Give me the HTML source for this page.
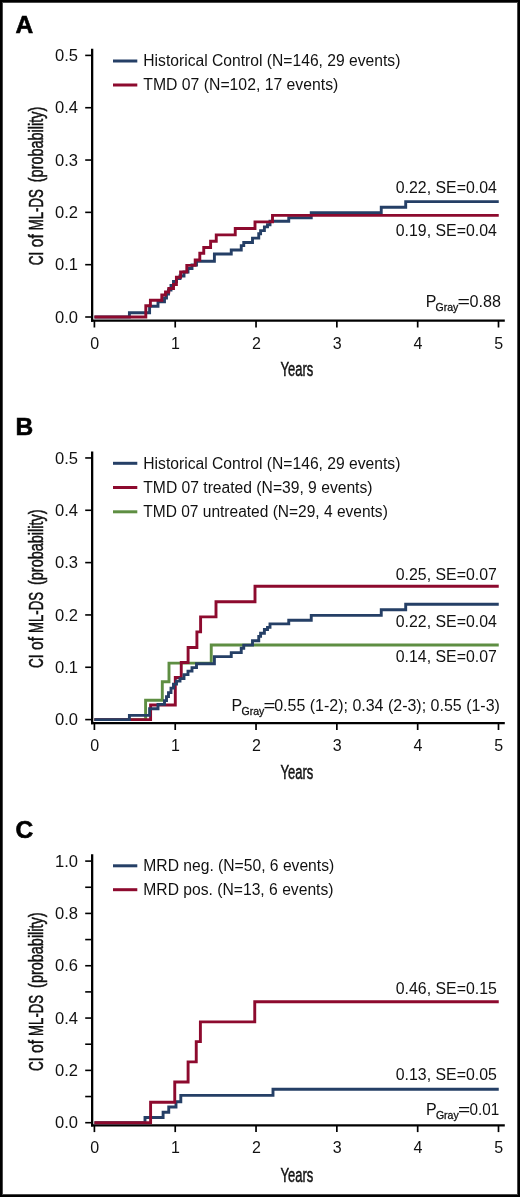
<!DOCTYPE html>
<html><head><meta charset="utf-8"><style>
html,body{margin:0;padding:0;background:#fff;}
body{width:520px;height:1197px;overflow:hidden;position:relative;}
.frame{position:absolute;left:0;top:0;width:516px;height:1193px;border:2px solid #000;}
.frame2{position:absolute;left:2px;top:2px;width:514px;height:1191px;border:1px solid #4a4a4a;}
svg{position:absolute;left:0;top:0;display:block;will-change:transform;}
</style></head><body>
<svg width="520" height="1197" viewBox="0 0 520 1197" font-family="Liberation Sans, sans-serif" fill="#111">
<rect x="0" y="0" width="520" height="1197" fill="#fff"/>
<text x="15.4" y="32.50" font-size="24.5" font-weight="bold" fill="#000" stroke="#000" stroke-width="0.6">A</text>
<line x1="92.15" y1="48.80" x2="92.15" y2="321.80" stroke="#000" stroke-width="2.3"/>
<line x1="91.0" y1="320.70" x2="504.8" y2="320.70" stroke="#000" stroke-width="2.3"/>
<line x1="85.2" y1="317.00" x2="92" y2="317.00" stroke="#000" stroke-width="1.6"/>
<text x="78.00" y="322.60" font-size="16" text-anchor="end" textLength="23" lengthAdjust="spacingAndGlyphs">0.0</text>
<line x1="85.2" y1="264.68" x2="92" y2="264.68" stroke="#000" stroke-width="1.6"/>
<text x="78.00" y="270.28" font-size="16" text-anchor="end" textLength="23" lengthAdjust="spacingAndGlyphs">0.1</text>
<line x1="85.2" y1="212.36" x2="92" y2="212.36" stroke="#000" stroke-width="1.6"/>
<text x="78.00" y="217.96" font-size="16" text-anchor="end" textLength="23" lengthAdjust="spacingAndGlyphs">0.2</text>
<line x1="85.2" y1="160.04" x2="92" y2="160.04" stroke="#000" stroke-width="1.6"/>
<text x="78.00" y="165.64" font-size="16" text-anchor="end" textLength="23" lengthAdjust="spacingAndGlyphs">0.3</text>
<line x1="85.2" y1="107.72" x2="92" y2="107.72" stroke="#000" stroke-width="1.6"/>
<text x="78.00" y="113.32" font-size="16" text-anchor="end" textLength="23" lengthAdjust="spacingAndGlyphs">0.4</text>
<line x1="85.2" y1="55.40" x2="92" y2="55.40" stroke="#000" stroke-width="1.6"/>
<text x="78.00" y="61.00" font-size="16" text-anchor="end" textLength="23" lengthAdjust="spacingAndGlyphs">0.5</text>
<line x1="94.40" y1="320.70" x2="94.40" y2="327.50" stroke="#000" stroke-width="1.7"/>
<text x="94.70" y="348.50" font-size="16" text-anchor="middle">0</text>
<line x1="175.22" y1="320.70" x2="175.22" y2="327.50" stroke="#000" stroke-width="1.7"/>
<text x="175.52" y="348.50" font-size="16" text-anchor="middle">1</text>
<line x1="256.04" y1="320.70" x2="256.04" y2="327.50" stroke="#000" stroke-width="1.7"/>
<text x="256.34" y="348.50" font-size="16" text-anchor="middle">2</text>
<line x1="336.86" y1="320.70" x2="336.86" y2="327.50" stroke="#000" stroke-width="1.7"/>
<text x="337.16" y="348.50" font-size="16" text-anchor="middle">3</text>
<line x1="417.68" y1="320.70" x2="417.68" y2="327.50" stroke="#000" stroke-width="1.7"/>
<text x="417.98" y="348.50" font-size="16" text-anchor="middle">4</text>
<line x1="498.50" y1="320.70" x2="498.50" y2="327.50" stroke="#000" stroke-width="1.7"/>
<text x="498.80" y="348.50" font-size="16" text-anchor="middle">5</text>
<g transform="translate(43.4,265.20) rotate(-90)" font-size="19.5" stroke="#111" stroke-width="0.5">
<text x="0" y="0" textLength="13.5" lengthAdjust="spacingAndGlyphs">CI</text>
<text x="18" y="0" textLength="13" lengthAdjust="spacingAndGlyphs">of</text>
<text x="35" y="0" textLength="41" lengthAdjust="spacingAndGlyphs">ML-DS</text>
<text x="83" y="0" textLength="75.5" lengthAdjust="spacingAndGlyphs">(probability)</text>
</g>
<text x="280.5" y="376.20" font-size="20" textLength="32.7" lengthAdjust="spacingAndGlyphs" stroke="#111" stroke-width="0.5">Years</text>
<text x="15.4" y="435.40" font-size="24.5" font-weight="bold" fill="#000" stroke="#000" stroke-width="0.6">B</text>
<line x1="92.15" y1="451.60" x2="92.15" y2="724.30" stroke="#000" stroke-width="2.3"/>
<line x1="91.0" y1="723.20" x2="504.8" y2="723.20" stroke="#000" stroke-width="2.3"/>
<line x1="85.2" y1="719.60" x2="92" y2="719.60" stroke="#000" stroke-width="1.6"/>
<text x="78.00" y="725.20" font-size="16" text-anchor="end" textLength="23" lengthAdjust="spacingAndGlyphs">0.0</text>
<line x1="85.2" y1="667.27" x2="92" y2="667.27" stroke="#000" stroke-width="1.6"/>
<text x="78.00" y="672.87" font-size="16" text-anchor="end" textLength="23" lengthAdjust="spacingAndGlyphs">0.1</text>
<line x1="85.2" y1="614.94" x2="92" y2="614.94" stroke="#000" stroke-width="1.6"/>
<text x="78.00" y="620.54" font-size="16" text-anchor="end" textLength="23" lengthAdjust="spacingAndGlyphs">0.2</text>
<line x1="85.2" y1="562.61" x2="92" y2="562.61" stroke="#000" stroke-width="1.6"/>
<text x="78.00" y="568.21" font-size="16" text-anchor="end" textLength="23" lengthAdjust="spacingAndGlyphs">0.3</text>
<line x1="85.2" y1="510.28" x2="92" y2="510.28" stroke="#000" stroke-width="1.6"/>
<text x="78.00" y="515.88" font-size="16" text-anchor="end" textLength="23" lengthAdjust="spacingAndGlyphs">0.4</text>
<line x1="85.2" y1="457.95" x2="92" y2="457.95" stroke="#000" stroke-width="1.6"/>
<text x="78.00" y="463.55" font-size="16" text-anchor="end" textLength="23" lengthAdjust="spacingAndGlyphs">0.5</text>
<line x1="94.40" y1="723.20" x2="94.40" y2="730.00" stroke="#000" stroke-width="1.7"/>
<text x="94.70" y="751.00" font-size="16" text-anchor="middle">0</text>
<line x1="175.22" y1="723.20" x2="175.22" y2="730.00" stroke="#000" stroke-width="1.7"/>
<text x="175.52" y="751.00" font-size="16" text-anchor="middle">1</text>
<line x1="256.04" y1="723.20" x2="256.04" y2="730.00" stroke="#000" stroke-width="1.7"/>
<text x="256.34" y="751.00" font-size="16" text-anchor="middle">2</text>
<line x1="336.86" y1="723.20" x2="336.86" y2="730.00" stroke="#000" stroke-width="1.7"/>
<text x="337.16" y="751.00" font-size="16" text-anchor="middle">3</text>
<line x1="417.68" y1="723.20" x2="417.68" y2="730.00" stroke="#000" stroke-width="1.7"/>
<text x="417.98" y="751.00" font-size="16" text-anchor="middle">4</text>
<line x1="498.50" y1="723.20" x2="498.50" y2="730.00" stroke="#000" stroke-width="1.7"/>
<text x="498.80" y="751.00" font-size="16" text-anchor="middle">5</text>
<g transform="translate(43.4,668.00) rotate(-90)" font-size="19.5" stroke="#111" stroke-width="0.5">
<text x="0" y="0" textLength="13.5" lengthAdjust="spacingAndGlyphs">CI</text>
<text x="18" y="0" textLength="13" lengthAdjust="spacingAndGlyphs">of</text>
<text x="35" y="0" textLength="41" lengthAdjust="spacingAndGlyphs">ML-DS</text>
<text x="83" y="0" textLength="75.5" lengthAdjust="spacingAndGlyphs">(probability)</text>
</g>
<text x="280.5" y="779.00" font-size="20" textLength="32.7" lengthAdjust="spacingAndGlyphs" stroke="#111" stroke-width="0.5">Years</text>
<text x="15.4" y="838.20" font-size="24.5" font-weight="bold" fill="#000" stroke="#000" stroke-width="0.6">C</text>
<line x1="92.15" y1="854.15" x2="92.15" y2="1126.40" stroke="#000" stroke-width="2.3"/>
<line x1="91.0" y1="1125.30" x2="504.8" y2="1125.30" stroke="#000" stroke-width="2.3"/>
<line x1="85.2" y1="1096.54" x2="92" y2="1096.54" stroke="#000" stroke-width="1.6"/>
<line x1="85.2" y1="1044.22" x2="92" y2="1044.22" stroke="#000" stroke-width="1.6"/>
<line x1="85.2" y1="991.90" x2="92" y2="991.90" stroke="#000" stroke-width="1.6"/>
<line x1="85.2" y1="939.58" x2="92" y2="939.58" stroke="#000" stroke-width="1.6"/>
<line x1="85.2" y1="887.26" x2="92" y2="887.26" stroke="#000" stroke-width="1.6"/>
<line x1="85.2" y1="1122.70" x2="92" y2="1122.70" stroke="#000" stroke-width="1.6"/>
<text x="78.00" y="1128.30" font-size="16" text-anchor="end" textLength="23" lengthAdjust="spacingAndGlyphs">0.0</text>
<line x1="85.2" y1="1070.38" x2="92" y2="1070.38" stroke="#000" stroke-width="1.6"/>
<text x="78.00" y="1075.98" font-size="16" text-anchor="end" textLength="23" lengthAdjust="spacingAndGlyphs">0.2</text>
<line x1="85.2" y1="1018.06" x2="92" y2="1018.06" stroke="#000" stroke-width="1.6"/>
<text x="78.00" y="1023.66" font-size="16" text-anchor="end" textLength="23" lengthAdjust="spacingAndGlyphs">0.4</text>
<line x1="85.2" y1="965.74" x2="92" y2="965.74" stroke="#000" stroke-width="1.6"/>
<text x="78.00" y="971.34" font-size="16" text-anchor="end" textLength="23" lengthAdjust="spacingAndGlyphs">0.6</text>
<line x1="85.2" y1="913.42" x2="92" y2="913.42" stroke="#000" stroke-width="1.6"/>
<text x="78.00" y="919.02" font-size="16" text-anchor="end" textLength="23" lengthAdjust="spacingAndGlyphs">0.8</text>
<line x1="85.2" y1="861.10" x2="92" y2="861.10" stroke="#000" stroke-width="1.6"/>
<text x="78.00" y="866.70" font-size="16" text-anchor="end" textLength="23" lengthAdjust="spacingAndGlyphs">1.0</text>
<line x1="94.40" y1="1125.30" x2="94.40" y2="1132.10" stroke="#000" stroke-width="1.7"/>
<text x="94.70" y="1153.10" font-size="16" text-anchor="middle">0</text>
<line x1="175.22" y1="1125.30" x2="175.22" y2="1132.10" stroke="#000" stroke-width="1.7"/>
<text x="175.52" y="1153.10" font-size="16" text-anchor="middle">1</text>
<line x1="256.04" y1="1125.30" x2="256.04" y2="1132.10" stroke="#000" stroke-width="1.7"/>
<text x="256.34" y="1153.10" font-size="16" text-anchor="middle">2</text>
<line x1="336.86" y1="1125.30" x2="336.86" y2="1132.10" stroke="#000" stroke-width="1.7"/>
<text x="337.16" y="1153.10" font-size="16" text-anchor="middle">3</text>
<line x1="417.68" y1="1125.30" x2="417.68" y2="1132.10" stroke="#000" stroke-width="1.7"/>
<text x="417.98" y="1153.10" font-size="16" text-anchor="middle">4</text>
<line x1="498.50" y1="1125.30" x2="498.50" y2="1132.10" stroke="#000" stroke-width="1.7"/>
<text x="498.80" y="1153.10" font-size="16" text-anchor="middle">5</text>
<g transform="translate(43.4,1070.90) rotate(-90)" font-size="19.5" stroke="#111" stroke-width="0.5">
<text x="0" y="0" textLength="13.5" lengthAdjust="spacingAndGlyphs">CI</text>
<text x="18" y="0" textLength="13" lengthAdjust="spacingAndGlyphs">of</text>
<text x="35" y="0" textLength="41" lengthAdjust="spacingAndGlyphs">ML-DS</text>
<text x="83" y="0" textLength="75.5" lengthAdjust="spacingAndGlyphs">(probability)</text>
</g>
<text x="280.5" y="1181.90" font-size="20" textLength="32.7" lengthAdjust="spacingAndGlyphs" stroke="#111" stroke-width="0.5">Years</text>
<path d="M94.40,317.00H129.40V312.75H149.60V306.20H158.00V301.80H164.50V298.00H166.50V294.00H168.50V290.00H171.00V285.50H173.50V281.50H176.50V278.50H180.00V276.00H184.00V272.00H188.00V268.50H192.00V265.00H196.50V261.20H214.40V254.00H231.25V250.00H241.25V245.60H243.75V242.50H252.50V238.10H258.75V233.75H260.60V230.60H264.40V226.90H267.50V224.75H270.00V221.25H288.75V217.70H311.25V212.80H381.25V207.20H405.70V201.60H498.75" fill="none" stroke="#253f66" stroke-width="2.9" stroke-linejoin="miter"/>
<path d="M94.40,317.00H145.80V305.80H150.40V300.20H161.80V295.00H165.50V292.00H168.80V288.50H173.50V284.50H176.40V277.30H180.60V272.00H186.80V265.40H195.20V260.00H199.80V253.30H203.75V247.50H210.60V241.25H216.25V234.90H235.25V228.50H255.00V221.90H272.50V215.40H498.75" fill="none" stroke="#8d0a2e" stroke-width="2.9" stroke-linejoin="miter"/>
<path d="M94.40,719.60H145.60V700.30H162.30V681.70H169.00V663.10H211.25V645.00H498.75" fill="none" stroke="#5e8e42" stroke-width="2.9" stroke-linejoin="miter"/>
<path d="M94.40,719.60H150.60V705.00H175.30V677.50H181.25V662.50H188.10V647.50H196.90V631.90H200.60V616.90H216.00V601.70H255.00V586.30H498.75" fill="none" stroke="#8d0a2e" stroke-width="2.9" stroke-linejoin="miter"/>
<path d="M94.40,719.60H129.40V715.35H149.60V708.80H158.00V704.40H164.50V700.60H166.50V696.60H168.50V692.60H171.00V688.10H173.50V684.10H176.50V681.10H180.00V678.60H184.00V674.60H188.00V671.10H192.00V667.60H196.50V663.80H214.40V656.60H231.25V652.60H241.25V648.20H243.75V645.10H252.50V640.70H258.75V636.35H260.60V633.20H264.40V629.50H267.50V627.35H270.00V623.85H288.75V620.30H311.25V615.40H381.25V609.80H405.70V604.20H498.75" fill="none" stroke="#253f66" stroke-width="2.9" stroke-linejoin="miter"/>
<path d="M94.40,1122.70H145.00V1117.50H163.10V1112.20H168.75V1107.00H176.00V1101.80H180.80V1095.40H273.00V1089.20H498.75" fill="none" stroke="#253f66" stroke-width="2.9" stroke-linejoin="miter"/>
<path d="M94.40,1122.70H150.60V1102.30H174.75V1082.00H188.10V1061.90H196.25V1041.60H200.40V1021.90H254.75V1001.70H498.75" fill="none" stroke="#8d0a2e" stroke-width="2.9" stroke-linejoin="miter"/>
<line x1="113" y1="61.00" x2="137.3" y2="61.00" stroke="#253f66" stroke-width="3"/>
<text x="143.30" y="65.80" font-size="16" textLength="257.1" lengthAdjust="spacingAndGlyphs">Historical Control (N=146, 29 events)</text>
<line x1="113" y1="85.00" x2="137.3" y2="85.00" stroke="#8d0a2e" stroke-width="3"/>
<text x="143.30" y="89.80" font-size="16" textLength="194.99999999999997" lengthAdjust="spacingAndGlyphs">TMD 07 (N=102, 17 events)</text>
<line x1="113" y1="463.30" x2="137.3" y2="463.30" stroke="#253f66" stroke-width="3"/>
<text x="143.30" y="468.90" font-size="16" textLength="257.1" lengthAdjust="spacingAndGlyphs">Historical Control (N=146, 29 events)</text>
<line x1="113" y1="487.50" x2="137.3" y2="487.50" stroke="#8d0a2e" stroke-width="3"/>
<text x="143.30" y="492.80" font-size="16" textLength="229.19999999999996" lengthAdjust="spacingAndGlyphs">TMD 07 treated (N=39, 9 events)</text>
<line x1="113" y1="511.80" x2="137.3" y2="511.80" stroke="#5e8e42" stroke-width="3"/>
<text x="143.30" y="516.60" font-size="16" textLength="244.49999999999997" lengthAdjust="spacingAndGlyphs">TMD 07 untreated (N=29, 4 events)</text>
<line x1="113" y1="865.80" x2="137.3" y2="865.80" stroke="#253f66" stroke-width="3"/>
<text x="143.30" y="870.60" font-size="16" textLength="190.9" lengthAdjust="spacingAndGlyphs">MRD neg. (N=50, 6 events)</text>
<line x1="113" y1="889.70" x2="137.3" y2="889.70" stroke="#8d0a2e" stroke-width="3"/>
<text x="143.30" y="894.50" font-size="16" textLength="190.19999999999996" lengthAdjust="spacingAndGlyphs">MRD pos. (N=13, 6 events)</text>
<text x="395.80" y="192.90" font-size="16" textLength="101" lengthAdjust="spacingAndGlyphs">0.22, SE=0.04</text>
<text x="395.80" y="236.00" font-size="16" textLength="101" lengthAdjust="spacingAndGlyphs">0.19, SE=0.04</text>
<text x="395.80" y="580.00" font-size="16" textLength="101" lengthAdjust="spacingAndGlyphs">0.25, SE=0.07</text>
<text x="395.80" y="627.00" font-size="16" textLength="101" lengthAdjust="spacingAndGlyphs">0.22, SE=0.04</text>
<text x="395.80" y="662.00" font-size="16" textLength="101" lengthAdjust="spacingAndGlyphs">0.14, SE=0.07</text>
<text x="395.80" y="993.70" font-size="16" textLength="101" lengthAdjust="spacingAndGlyphs">0.46, SE=0.15</text>
<text x="395.80" y="1080.00" font-size="16" textLength="101" lengthAdjust="spacingAndGlyphs">0.13, SE=0.05</text>
<text x="425.70" y="306.60" font-size="16">P</text>
<text x="435.60" y="310.70" font-size="10.5" stroke="#111" stroke-width="0.3">Gray</text>
<text x="457.50" y="306.60" font-size="16" textLength="12.40" lengthAdjust="spacingAndGlyphs">=</text>
<text x="469.50" y="306.60" font-size="16" textLength="31.40" lengthAdjust="spacingAndGlyphs">0.88</text>
<text x="231.60" y="710.80" font-size="16">P</text>
<text x="241.50" y="714.90" font-size="10.5" stroke="#111" stroke-width="0.3">Gray</text>
<text x="263.40" y="710.80" font-size="16" textLength="11.90" lengthAdjust="spacingAndGlyphs">=</text>
<text x="274.20" y="710.80" font-size="16" textLength="225.70" lengthAdjust="spacingAndGlyphs">0.55 (1-2); 0.34 (2-3); 0.55 (1-3)</text>
<text x="426.00" y="1115.00" font-size="16">P</text>
<text x="435.90" y="1119.10" font-size="10.5" stroke="#111" stroke-width="0.3">Gray</text>
<text x="458.00" y="1115.00" font-size="16" textLength="12.20" lengthAdjust="spacingAndGlyphs">=</text>
<text x="469.50" y="1115.00" font-size="16" textLength="29.70" lengthAdjust="spacingAndGlyphs">0.01</text>
</svg>
<div class="frame2"></div>
<div class="frame"></div>
</body></html>
